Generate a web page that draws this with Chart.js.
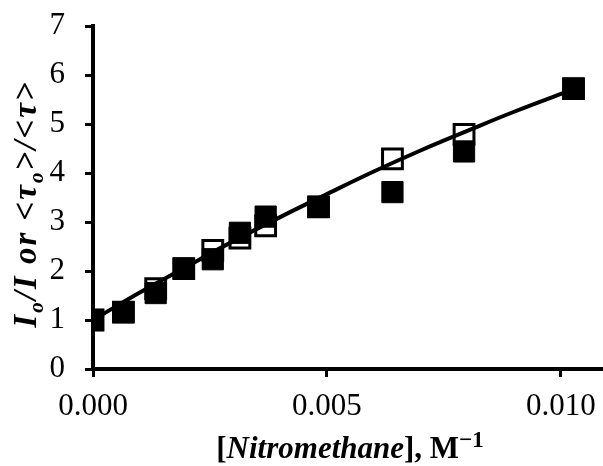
<!DOCTYPE html>
<html>
<head>
<meta charset="utf-8">
<script src="https://cdn.jsdelivr.net/npm/chart.js@4.4.0/dist/chart.umd.min.js"></script>
<style>
  html, body { margin: 0; padding: 0; background: #fff; }
  #wrap { width: 603px; height: 466px; }
</style>
</head>
<body>
<div id="wrap"><canvas id="chart"></canvas></div>
<script>
// Nitromethane concentration (x)
const conc = [0, 0.00065, 0.00134, 0.00194, 0.00256, 0.00314, 0.00369, 0.00482, 0.0064, 0.00793, 0.01027];
// Io/I  (filled squares)
const intensityRatio = [1.0, 1.16, 1.55, 2.05, 2.24, 2.78, 3.11, 3.31, 3.61, 4.44, 5.72];
// <tau_o>/<tau>  (open squares)
const lifetimeRatio = [1.0, 1.16, 1.64, 2.05, 2.42, 2.67, 2.92, 3.31, 4.29, 4.79, 5.72];
// fitted curve
const fitX = [0, 0.001, 0.002, 0.003, 0.004, 0.005, 0.006, 0.007, 0.008, 0.009, 0.0103];
const fitY = [1.0, 1.56, 2.09, 2.61, 3.10, 3.57, 4.03, 4.46, 4.86, 5.25, 5.72];
// tick labels
const xTicks = [0, 0.005, 0.010];
const yTicks = [0, 1, 2, 3, 4, 5, 6, 7];

const toPts = (xs, ys) => xs.map((x, i) => ({ x: x, y: ys[i] }));

// draw a row of text pieces (some sub/superscript), centred on 0,0
// spacing = extra px between characters
function drawPieces(ctx, pieces, size, spacing, smallScale) {
  const fontOf = p => `${p.style || "bold"} ${p.sub || p.sup ? Math.round(size * smallScale) : size}px "Liberation Serif"`;
  let total = 0, n = 0;
  for (const p of pieces) {
    ctx.font = fontOf(p);
    for (const ch of p.t) { total += ctx.measureText(ch).width; n++; }
  }
  total += spacing * (n - 1);
  let x = -total / 2;
  ctx.textBaseline = "alphabetic";
  ctx.textAlign = "left";
  for (const p of pieces) {
    ctx.font = fontOf(p);
    let dy = 0;
    if (p.sub) dy = size * 0.22;
    if (p.sup) dy = -size * 0.36;
    for (const ch of p.t) {
      ctx.fillText(ch, x, size * 0.32 + dy);
      x += ctx.measureText(ch).width + spacing;
    }
  }
}

const titlesPlugin = {
  id: "titles",
  afterDraw(chart) {
    const ctx = chart.ctx;
    ctx.save();
    ctx.fillStyle = "#000";
    // x title
    ctx.save();
    ctx.translate(350, 448);
    drawPieces(ctx, [
      { t: "[" },
      { t: "Nitromethane", style: "italic bold" },
      { t: "], M" },
      { t: "\u22121", sup: true }
    ], 31, 0, 0.75);
    ctx.restore();
    // y title
    ctx.save();
    ctx.translate(25, 205);
    ctx.rotate(-Math.PI / 2);
    drawPieces(ctx, [
      { t: "I", style: "italic bold" },
      { t: "o", style: "italic bold", sub: true },
      { t: "/I or <\u03c4", style: "italic bold" },
      { t: "o", style: "italic bold", sub: true },
      { t: ">/<\u03c4>", style: "italic bold" }
    ], 33, 2, 0.65);
    ctx.restore();
    ctx.restore();
  }
};

new Chart(document.getElementById("chart"), {
  type: "scatter",
  data: {
    datasets: [
      {
        label: "Io/I",
        data: toPts(conc, intensityRatio),
        pointStyle: "rect",
        pointRadius: 15,
        backgroundColor: "#000",
        borderColor: "#000",
        borderWidth: 1,
        order: 0
      },
      {
        label: "fit",
        data: toPts(fitX, fitY),
        showLine: true,
        pointRadius: 0,
        borderColor: "#000",
        borderWidth: 4,
        tension: 0.4,
        order: 1
      },
      {
        label: "<tau_o>/<tau>",
        data: toPts(conc, lifetimeRatio),
        pointStyle: "rect",
        pointRadius: 14,
        backgroundColor: "#fff",
        borderColor: "#000",
        borderWidth: 3,
        order: 2
      }
    ]
  },
  options: {
    responsive: true,
    maintainAspectRatio: false,
    animation: false,
    layout: { autoPadding: false, padding: { top: 26, right: 0, left: 0, bottom: 0 } },
    plugins: {
      legend: { display: false },
      tooltip: { enabled: false }
    },
    scales: {
      x: {
        type: "linear",
        min: 0,
        max: 0.0109,
        afterBuildTicks: s => { s.ticks = xTicks.map(v => ({ value: v })); },
        afterFit: s => { s.height = 97; s.paddingLeft = 0; s.paddingRight = 0; },
        border: { color: "#000", width: 4 },
        grid: { drawOnChartArea: false, drawTicks: true, tickLength: 8, color: "#000", lineWidth: 3 },
        ticks: {
          color: "#000",
          padding: 11,
          maxRotation: 0,
          font: { family: "Liberation Serif", size: 31 },
          callback: v => v.toFixed(3)
        }
      },
      y: {
        min: 0,
        max: 7,
        afterBuildTicks: s => { s.ticks = yTicks.map(v => ({ value: v })); },
        afterFit: s => { s.width = 93; s.paddingTop = 0; s.paddingBottom = 0; },
        border: { color: "#000", width: 4 },
        grid: { drawOnChartArea: false, drawTicks: true, tickLength: 8, color: "#000", lineWidth: 3 },
        ticks: {
          color: "#000",
          padding: 20,
          font: { family: "Liberation Serif", size: 31 }
        }
      }
    }
  },
  plugins: [titlesPlugin]
});
</script>
</body>
</html>
